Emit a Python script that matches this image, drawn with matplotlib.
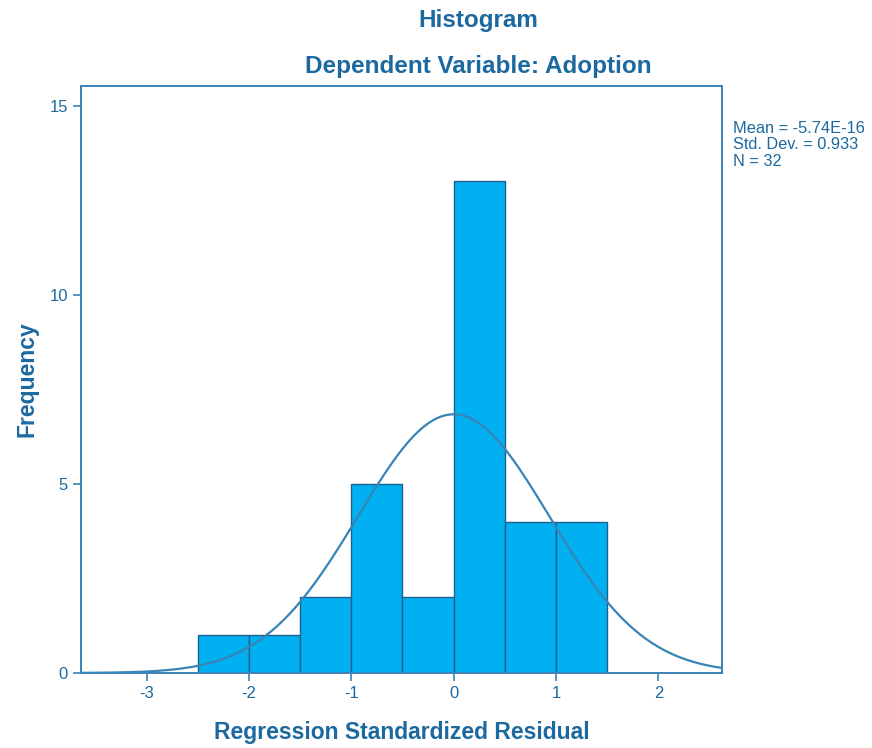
import matplotlib
matplotlib.use("Agg")
import matplotlib.pyplot as plt
import numpy as np

# --- dados ---
bin_edges = [-2.5, -2.0, -1.5, -1.0, -0.5, 0.0, 0.5, 1.0, 1.5]
counts    = [1, 1, 2, 5, 2, 13, 4, 4]
mean      = -5.74e-16
std_dev   = 0.933
n         = 32
x_ticks   = [-3, -2, -1, 0, 1, 2]
y_ticks   = [0, 5, 10, 15]

text_col  = '#1c69a0'
line_col  = '#3a83b6'
bar_col   = '#00b0f0'
edge_col  = '#1f5f8f'

plt.rcParams['font.family'] = ['Liberation Sans', 'DejaVu Sans']

fig = plt.figure(figsize=(8.72, 7.48), dpi=100)
ax = fig.add_axes([0.0929, 0.1003, 0.735, 0.785])

edges = np.array(bin_edges)
widths = np.diff(edges)
ax.bar(edges[:-1], counts, width=widths, align='edge',
       color=bar_col, edgecolor=edge_col, linewidth=1.0, zorder=2)

# curva normal
xs = np.linspace(-3.64, 2.62, 400)
bw = widths[0]
ys = n * bw / (std_dev * np.sqrt(2 * np.pi)) * np.exp(-0.5 * ((xs - mean) / std_dev) ** 2)
ax.plot(xs, ys, color=line_col, linewidth=1.6, zorder=3)

ax.set_xlim(-3.64, 2.62)
ax.set_ylim(0, 15.53)
ax.set_xticks(x_ticks)
ax.set_yticks(y_ticks)
ax.set_xticklabels([str(v) for v in x_ticks])
ax.set_yticklabels([str(v) for v in y_ticks])
ax.tick_params(colors=line_col, labelcolor=text_col, labelsize=12,
               length=6, width=1.2)
for s in ax.spines.values():
    s.set_color(line_col)
    s.set_linewidth(1.4)

ax.set_xlabel('Regression Standardized Residual', fontsize=16.5,
              fontweight='bold', color=text_col, labelpad=14)
ax.set_ylabel('Frequency', fontsize=16.5, fontweight='bold',
              color=text_col, labelpad=8)

fig.text(0.549, 0.972, 'Histogram', ha='center', va='center',
         fontsize=17.5, fontweight='bold', color=text_col)
fig.text(0.549, 0.911, 'Dependent Variable: Adoption', ha='center',
         va='center', fontsize=17.5, fontweight='bold', color=text_col)

fig.text(0.841, 0.838, f'Mean = -5.74E-16\nStd. Dev. = {std_dev}\nN = {n}',
         ha='left', va='top', fontsize=11.8, color=text_col, linespacing=1.1)

plt.savefig('out.png', dpi=100)
